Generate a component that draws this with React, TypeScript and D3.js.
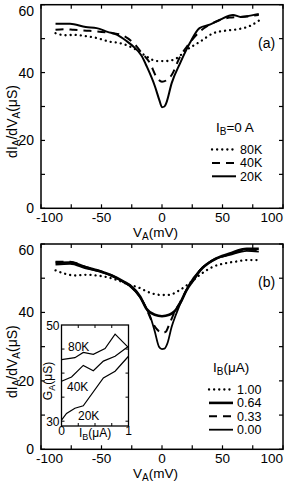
import React from "react";
import * as d3 from "d3";

// ---- data ----
const xTicks = [-100, -50, 0, 50, 100];
const xMinor = [-75, -25, 25, 75];
const yTicks = [0, 20, 40, 60];
const yMinor = [10, 30, 50];

// panel (a): I_B = 0 A
const a80K: [number, number][] = [[-88,51.6],[-80,51],[-73,51.1],[-64,50.8],[-54,50.2],[-43,49.1],[-35,48.7],[-21,46.7],[-12.6,44.7],[-4.4,43.4],[3.8,43.4],[12,44.2],[20.4,46.7],[31.4,49.1],[42.4,51.6],[53.4,52.4],[64.5,52.9],[73,53.8],[80,55.3]];
const a40K: [number, number][] = [[-88,52.6],[-80,52.8],[-73,52.6],[-60,52.3],[-45,51.8],[-33,51],[-21,47.7],[-17.4,46.1],[-10,42.8],[-4.4,38.6],[0,37.3],[4,37.8],[8,39.3],[14.9,44.7],[21.7,48.2],[31,52],[42,54.6],[56,56.2],[70,56.5],[80,57]];
const a20K: [number, number][] = [[-88,54.4],[-76,54.4],[-63,53.4],[-54,53.1],[-45,52],[-37,51.1],[-29,49.2],[-23.7,47.7],[-17,45],[-12.6,41.8],[-5.8,35.9],[-2.2,31.9],[0,29.8],[2,30],[3.5,31],[8,36.9],[15,42.8],[23,48.7],[31,53.1],[40,54.2],[48,55.6],[58.7,57],[65,56.4],[70,56.6],[80,57.3]];
const aLegend = ["80K", "40K", "20K"];

// panel (b): I_B varied
const b100: [number, number][] = [[-88,52.3],[-80,51.3],[-72,50.8],[-63,51],[-54,50.8],[-44,50.2],[-35,49.2],[-26.4,48],[-21,47.5],[-8.6,45.6],[0,45.1],[5,45.1],[14.9,46.6],[24.4,49],[31.4,51],[42.4,53.4],[50,54.2],[61.7,54.9],[70,55.3],[80,55.3]];
const b064: [number, number][] = [[-88,54.5],[-76,54.6],[-63,53.2],[-51,52],[-41.5,50.8],[-30.6,48.8],[-26,47.8],[-18,44.6],[-12.7,41],[-6,39.3],[0,38.9],[6,39.3],[10,40.2],[15,42.7],[20.4,46.6],[26,49.5],[31.4,52.2],[42.4,55.3],[56,57.2],[70,58.6],[80,58.6]];
const b033: [number, number][] = [[-88,54.8],[-76,54.8],[-63,53.3],[-51,52.1],[-41.5,50.8],[-30.6,48.7],[-26,47.6],[-18,44.5],[-13,41.2],[-8.5,37.5],[-4,35],[0,34],[3,34.3],[6,36.5],[10,39.8],[15,43],[20.4,46.6],[26,49.5],[31.4,52.3],[42.4,55.3],[56,57],[70,58.3],[80,58.2]];
const b000: [number, number][] = [[-88,54],[-76,54.2],[-63,52.9],[-51,51.9],[-41.5,50.7],[-30.6,48.6],[-26,47.5],[-18,44.4],[-13,41.3],[-9.5,38.6],[-6,34.5],[-2.5,30],[0,29.3],[2,29.4],[4.5,31],[8,35.8],[12,39.8],[17.6,44.6],[23,48.5],[31.4,52.4],[42.4,55.4],[56,56.8],[70,58],[80,57.8]];
const bLegend = ["1.00", "0.64", "0.33", "0.00"];

// inset: G_A vs I_B
const insetXTicks = [0, 1];
const insetYTicks = [30, 50];
const in80K: [number, number][] = [[0,42.8],[0.2,43.2],[0.325,44.3],[0.475,43.9],[0.65,45.1],[0.8,48.1],[1,45.3]];
const in40K: [number, number][] = [[0,38.3],[0.15,39.2],[0.325,41.6],[0.475,40.5],[0.625,42.5],[0.8,43.5],[1,45.6]];
const in20K: [number, number][] = [[0,30.2],[0.075,31.6],[0.2,32.7],[0.325,33.2],[0.625,39],[0.8,40.4],[1,43.5]];
const insetLabels = ["80K", "40K", "20K"];

const FONT = "'Liberation Sans', Arial, Helvetica, sans-serif";
const DOT = "0.1 5";
const DASH = "8 6";

type Style = { dash?: string; width: number; cap: "round" | "butt" };
const styDot: Style = { dash: DOT, width: 2.3, cap: "round" };
const styDash: Style = { dash: DASH, width: 2, cap: "butt" };
const stySolid: Style = { width: 2, cap: "butt" };
const styThick: Style = { width: 2.6, cap: "butt" };

const L = 41, R = 283;

function Panel({ top, bottom, series, styles, tag, legendTitle, legendLabels, lx, ly, children }: any) {
  const x = d3.scaleLinear().domain([-100, 100]).range([L, R]);
  const y = d3.scaleLinear().domain([0, 60]).range([bottom, top]);
  const line = d3.line<[number, number]>().x(d => x(d[0])).y(d => y(d[1])).curve(d3.curveMonotoneX);
  const t = 4;
  return (
    <g>
      {series.map((s: any, i: number) => (
        <path key={i} d={line(s) || ""} fill="none" stroke="#000" strokeWidth={styles[i].width}
          strokeDasharray={styles[i].dash} strokeLinecap={styles[i].cap} strokeLinejoin="round" />
      ))}
      {children}
      <rect x={L} y={top} width={R - L} height={bottom - top} fill="none" stroke="#000" strokeWidth={1.5} />
      {[...xTicks, ...xMinor].map(v => (
        <g key={"xt" + v}>
          <line x1={x(v)} x2={x(v)} y1={bottom} y2={bottom - t} stroke="#000" strokeWidth={1.2} />
          <line x1={x(v)} x2={x(v)} y1={top} y2={top + t} stroke="#000" strokeWidth={1.2} />
        </g>
      ))}
      {[...yTicks, ...yMinor].map(v => (
        <g key={"yt" + v}>
          <line x1={L} x2={L + t} y1={y(v)} y2={y(v)} stroke="#000" strokeWidth={1.2} />
          <line x1={R} x2={R - t} y1={y(v)} y2={y(v)} stroke="#000" strokeWidth={1.2} />
        </g>
      ))}
      {xTicks.map((v, i) => {
        const first = i === 0, last = i === xTicks.length - 1;
        return (
          <text key={"xl" + v} x={first ? 36 : last ? R : x(v)} y={bottom + 13.5}
            textAnchor={first ? "start" : last ? "end" : "middle"} fontSize={13.5} fontFamily={FONT}>{v}</text>
        );
      })}
      {yTicks.map(v => (
        <text key={"yl" + v} x={34} y={(v === 60 ? y(v) + 6 : y(v)) + 5} textAnchor="end" fontSize={14} fontFamily={FONT}>{v}</text>
      ))}
      <text x={133} y={bottom + 29} fontSize={13.5} fontFamily={FONT}>
        V<tspan fontSize={10} dy={2.5}>A</tspan><tspan dy={-2.5}>(mV)</tspan>
      </text>
      <text transform={`translate(17,${(top + bottom) / 2 + 15}) rotate(-90)`} textAnchor="middle" fontSize={14} fontFamily={FONT}>
        dI<tspan fontSize={10} dy={3}>A</tspan><tspan dy={-3}>/dV</tspan><tspan fontSize={10} dy={3}>A</tspan><tspan dy={-3}>(μS)</tspan>
      </text>
      <text x={258} y={top + 43} fontSize={14} fontFamily={FONT}>{tag}</text>
      <text x={lx + 4} y={ly} fontSize={13.5} fontFamily={FONT}>
        I<tspan fontSize={10} dy={3}>B</tspan><tspan dy={-3}>{legendTitle}</tspan>
      </text>
      {legendLabels.map((lab: string, i: number) => {
        const yy = ly + 22 + i * 13.4;
        return (
          <g key={lab}>
            <line x1={lx} x2={lx + 24} y1={yy - 4.5} y2={yy - 4.5} stroke="#000" strokeWidth={styles[i].width}
              strokeDasharray={styles[i].dash} strokeLinecap={styles[i].cap} />
            <text x={lx + 28} y={yy} fontSize={12.5} fontFamily={FONT}>{lab}</text>
          </g>
        );
      })}
    </g>
  );
}

function Inset() {
  const IL = 61.5, IR = 128.5, IT = 325, IB = 426;
  const x = d3.scaleLinear().domain([0, 1]).range([IL, IR]);
  const y = d3.scaleLinear().domain([29, 50]).range([IB, IT]);
  const line = d3.line<[number, number]>().x(d => x(d[0])).y(d => y(d[1]));
  const labelPos = [[68, 351], [67, 391], [78, 420]];
  return (
    <g>
      <rect x={IL} y={IT} width={IR - IL} height={IB - IT} fill="#fff" stroke="#000" strokeWidth={1.3} />
      {[in80K, in40K, in20K].map((s, i) => (
        <path key={i} d={line(s) || ""} fill="none" stroke="#000" strokeWidth={1.2} />
      ))}
      {[30, 35, 40, 45].map(v => (
        <g key={v}>
          <line x1={IL} x2={IL + 3} y1={y(v)} y2={y(v)} stroke="#000" />
          <line x1={IR} x2={IR - 3} y1={y(v)} y2={y(v)} stroke="#000" />
        </g>
      ))}
      {[0.25, 0.5, 0.75].map(v => (
        <g key={v}>
          <line x1={x(v)} x2={x(v)} y1={IB} y2={IB - 3} stroke="#000" />
          <line x1={x(v)} x2={x(v)} y1={IT} y2={IT + 3} stroke="#000" />
        </g>
      ))}
      {insetYTicks.map(v => (
        <text key={v} x={IL - 2} y={y(v) + 4.5} textAnchor="end" fontSize={12} fontFamily={FONT}>{v}</text>
      ))}
      {insetXTicks.map(v => (
        <text key={v} x={x(v)} y={IB + 9} textAnchor="middle" fontSize={12} fontFamily={FONT}>{v}</text>
      ))}
      <text x={79} y={IB + 11} fontSize={12} fontFamily={FONT}>
        I<tspan fontSize={9} dy={2.5}>B</tspan><tspan dy={-2.5}>(μA)</tspan>
      </text>
      <text transform={`translate(52,381) rotate(-90)`} textAnchor="middle" fontSize={12} fontFamily={FONT}>
        G<tspan fontSize={9} dy={2.5}>A</tspan><tspan dy={-2.5}>(μS)</tspan>
      </text>
      {insetLabels.map((lab, i) => (
        <text key={lab} x={labelPos[i][0]} y={labelPos[i][1]} fontSize={12} fontFamily={FONT}>{lab}</text>
      ))}
    </g>
  );
}

export default function App() {
  return (
    <svg width={288} height={482} style={{ position: "absolute", left: 0, top: 0, background: "#fff" }}>
      <rect width={288} height={482} fill="#fff" />
      <Panel top={4.7} bottom={208.3} series={[a80K, a40K, a20K]} styles={[styDot, styDash, stySolid]}
        tag="(a)" legendTitle="=0 A" legendLabels={aLegend} lx={212} ly={132} />
      <Panel top={244} bottom={449.3} series={[b100, b064, b033, b000]} styles={[styDot, styThick, styDash, { width: 1.8, cap: "butt" }]}
        tag="(b)" legendTitle="(μA)" legendLabels={bLegend} lx={209} ly={372}>
        <Inset />
      </Panel>
    </svg>
  );
}
